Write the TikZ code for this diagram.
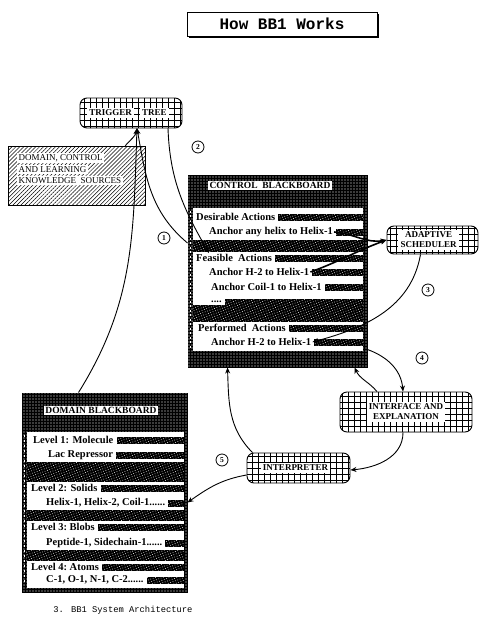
\documentclass[tikz,border=0pt]{standalone}
\usepackage{fontspec}
\setmainfont{Liberation Serif}
\newfontfamily\typefont{Liberation Mono}
\usetikzlibrary{arrows.meta,positioning,calc,patterns.meta,shadows}

\begin{document}
\begin{tikzpicture}[x=1pt, y=1pt,
    font=\fontsize{9}{10}\selectfont\bfseries,
    gridbox/.style={draw, line width=0.9pt, rounded corners=7pt, inner sep=0pt,
                    pattern={Hatch[angle=0,distance=6pt,line width=0.45pt]}},
    tag/.style={fill=white, inner sep=2pt, align=center},
    kstag/.style={fill=white, inner sep=1.6pt, font=\fontsize{9}{10}\selectfont\mdseries},
    ksbox/.style={draw, line width=1pt, inner sep=0pt,
                  pattern={Lines[angle=45,distance=2.8pt,line width=0.5pt]}},
    board/.style={draw, line width=1pt, fill=black,
                  postaction={pattern color=white, pattern={Dots[distance=3pt,radius=0.55pt]}}},
    smudge/.style={fill=black,
                   postaction={pattern color=white, pattern={Dots[distance=2.5pt,radius=0.45pt,angle=20]}}},
    btitle/.style={fill=white, inner sep=1.5pt, font=\fontsize{9.5}{10}\selectfont\bfseries},
    row/.style={anchor=west, inner sep=1pt, font=\fontsize{10.5}{12}\selectfont\bfseries},
    num/.style={draw, circle, line width=0.8pt, inner sep=0pt, minimum size=12pt,
                font=\fontsize{7.5}{8}\selectfont\bfseries},
    link/.style={line width=0.9pt, -{Stealth[length=6pt,width=5pt]}}
  ]
  \useasboundingbox (0,0) rectangle (481,-618);

  % title and caption
  \node[draw, line width=0.8pt, fill=white, minimum width=190, minimum height=24,
        drop shadow={shadow xshift=2pt, shadow yshift=-2pt, fill=black, opacity=1},
        font=\typefont\bfseries\fontsize{16}{18}\selectfont] (ttl) at (282,-24) {How BB1 Works};
  \node[font=\typefont\fontsize{8.8}{10}\selectfont] (cap) at (123,-610) {3. BB1 System Architecture};

  % knowledge sources and trigger tree
  \node[gridbox, minimum width=102, minimum height=30] (trig) at (131,-113) {};
  \node[tag, anchor=east] (trigA) at ([xshift=3]trig.center) {TRIGGER};
  \node[tag, right=6pt of trigA] (trigB) {TREE};
  \node[ksbox, minimum width=137, minimum height=59] (ks) at (76.5,-175.5) {};
  \node[kstag, anchor=north west] (ks1) at ($(ks.north west)+(9,-7)$) {DOMAIN, CONTROL};
  \node[kstag, below=1pt of ks1.south west, anchor=north west] (ks2) {AND LEARNING};
  \node[kstag, below=1pt of ks2.south west, anchor=north west] (ks3) {KNOWLEDGE\ \ SOURCES};

  % control blackboard
  \node[board, minimum width=179, minimum height=192] (cb) at (277.5,-271) {};
  \fill[white] ($(cb.north west)+(5,-33)$) rectangle ($(cb.south east)+(-5,17)$);
  \draw[white, line width=1pt, dash pattern=on 2pt off 2.5pt]
       ($(cb.north west)+(2.5,-36)$) -- ($(cb.south west)+(2.5,20)$);
  \node[btitle] (cbt) at ($(cb.north)+(-7.5,-11)$) {CONTROL\ \ BLACKBOARD};
  \node[row] (desir)  at (195,-217) {Desirable Actions};
  \node[row] (anyh)   at (208,-232) {Anchor any helix to Helix-1};
  \node[row] (feas)   at (195,-258) {Feasible\ \ Actions};
  \node[row] (h2)     at (208,-272) {Anchor H-2 to Helix-1};
  \node[row] (coil)   at (210,-287) {Anchor Coil-1 to Helix-1};
  \node[row] (more)   at (210,-302) {....};
  \node[row] (perf)   at (197,-328) {Performed\ \ Actions};
  \node[row] (perfh2) at (210,-342) {Anchor H-2 to Helix-1};
  \foreach \r in {desir,anyh,feas,h2,coil,more,perf,perfh2}
    \path[smudge] ($(\r.east)+(2,3.5)$) rectangle ($(cb.east |- \r.east)+(-5,-3.5)$);
  \path[smudge] ($(cb.west |- anyh.south)+(5,-2)$) rectangle ($(cb.east |- feas.north)+(-5,1)$);
  \path[smudge] ($(cb.west |- more.south)+(5,-1)$) rectangle ($(cb.east |- perf.north)+(-5,1)$);

  % domain blackboard
  \node[board, minimum width=165, minimum height=199] (db) at (104.5,-492.5) {};
  \fill[white] ($(db.north west)+(5,-39)$) rectangle ($(db.south east)+(-4,5)$);
  \draw[white, line width=1pt, dash pattern=on 2pt off 3pt]
       ($(db.north west)+(2.5,-42)$) -- ($(db.south west)+(2.5,8)$);
  \node[btitle] (dbt) at ($(db.north)+(-3.5,-18)$) {DOMAIN BLACKBOARD};
  \node[row] (lv1) at (32,-440) {Level 1: Molecule};
  \node[row] (lac) at (47,-455) {Lac Repressor};
  \node[row] (lv2) at (30,-488) {Level 2: Solids};
  \node[row] (hel) at (45,-503) {Helix-1,\ Helix-2, Coil-1......};
  \node[row] (lv3) at (30,-527) {Level 3:\ Blobs};
  \node[row] (pep) at (45,-543) {Peptide-1, Sidechain-1......};
  \node[row] (lv4) at (30,-567) {Level 4:\ Atoms};
  \node[row] (atm) at (45,-580) {C-1,\ O-1, N-1, C-2......};
  \foreach \r in {lv1,lac,lv2,hel,lv3,pep,lv4,atm}
    \path[smudge] ($(\r.east)+(2,3.5)$) rectangle ($(db.east |- \r.east)+(-4,-3.5)$);
  \path[smudge] ($(db.west |- lac.south)+(5,-1)$) rectangle ($(db.east |- lv2.north)+(-4,1)$);
  \path[smudge] ($(db.west |- hel.south)+(5,-1)$) rectangle ($(db.east |- lv3.north)+(-4,1)$);
  \path[smudge] ($(db.west |- pep.south)+(5,-1)$) rectangle ($(db.east |- lv4.north)+(-4,1)$);

  % other modules
  \node[gridbox, minimum width=91, minimum height=28] (sched) at (432.5,-240) {};
  \node[tag] (schedtxt) at ([xshift=-4]sched.center) {ADAPTIVE\\SCHEDULER};
  \node[gridbox, minimum width=132, minimum height=40] (intf) at (406,-412) {};
  \node[tag] (intftxt) at (intf.center) {INTERFACE AND\\EXPLANATION};
  \node[gridbox, minimum width=103, minimum height=30] (interp) at (298.5,-468) {};
  \node[tag] (interptxt) at ([xshift=-3]interp.center) {INTERPRETER};

  % connectors
  \coordinate (tip) at ([xshift=6]trig.south);
  \draw[link] ([xshift=-20]ks.north east) to[out=50,in=-100] (tip);
  \draw[link] ([xshift=-26]db.north) to[out=58,in=-92] (tip);
  \draw[link] ([yshift=28]cb.west) to[out=140,in=-80] (tip);
  \draw[link] ([xshift=37]trig.south) to[out=-88,in=120] ($(feas.north west)+(14,0)$);
  \draw[link, line width=1.6pt] (anyh.east) to[out=-5,in=190] (sched.west);
  \draw[link, line width=1.6pt] (h2.east) to[out=20,in=200] (sched.west);
  \draw[link] ([xshift=-12]sched.south) to[out=-100,in=15] (perfh2.east);
  \draw[link] ([yshift=18]cb.south east) to[out=-20,in=95] ([xshift=-3]intf.north);
  \draw[link] ([xshift=-29]intf.north) to[out=130,in=-65] ([xshift=77]cb.south);
  \draw[link] ([xshift=-3]intf.south) to[out=-90,in=5] ([yshift=-2]interp.east);
  \draw[link] ([xshift=-46]interp.north) to[out=135,in=-88] ([xshift=-50]cb.south);
  \draw[link] ([yshift=-7]interp.west) to[out=190,in=35] ([yshift=-10]db.east);

  % step numbers
  \node[num] (n1) at (164,-238) {1};
  \node[num] (n2) at (198,-147) {2};
  \node[num] (n3) at (428,-290) {3};
  \node[num] (n4) at (422,-358) {4};
  \node[num] (n5) at (222,-460) {5};
\end{tikzpicture}
\end{document}
